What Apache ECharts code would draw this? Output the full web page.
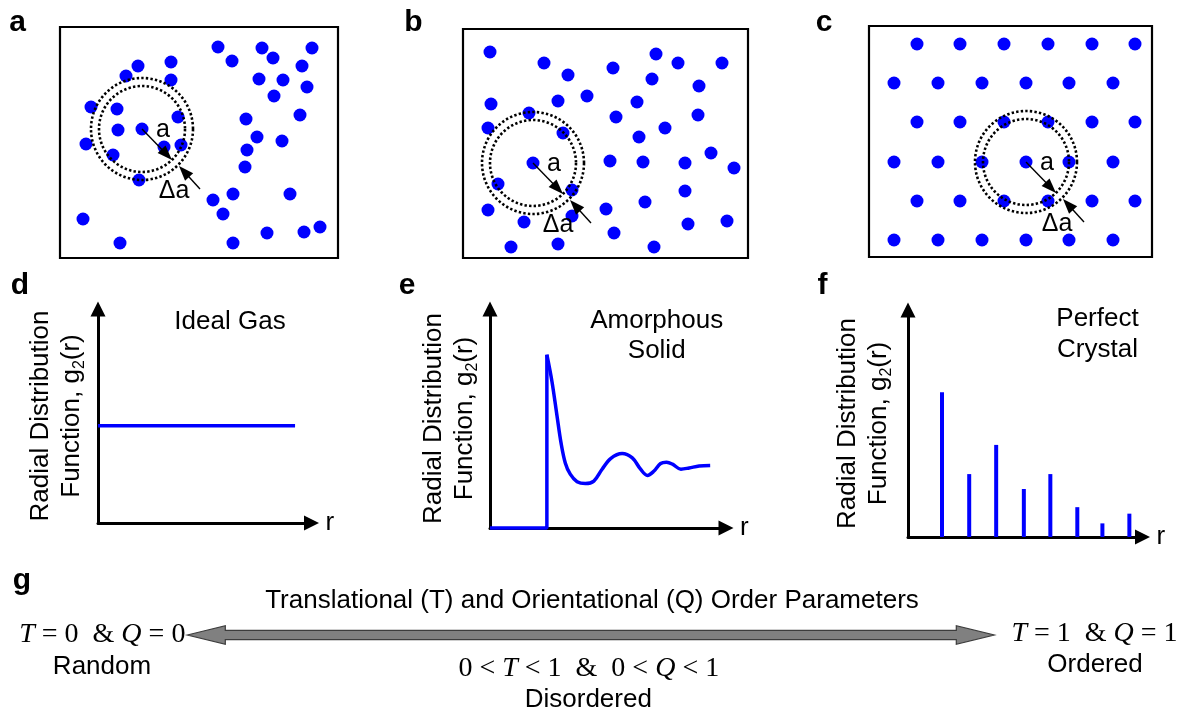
<!DOCTYPE html>
<html><head><meta charset="utf-8">
<script src="https://cdn.jsdelivr.net/npm/echarts@6/dist/echarts.min.js"></script>
<style>html,body{margin:0;padding:0;background:#fff}#c{width:1187px;height:717px}</style>
</head><body><div id="c"></div>
<script>
// ---------- DATA ----------
// Panel a: ideal gas particle positions (box units, y measured downward)
const gasX = [158,202,252,172,213,242,78,111,66,111,199,223,247,214,31,57,118,186,240,58,82,197,222,26,104,121,187,53,185,79,173,230,153,163,23,260,207,244,60,173];
const gasY = [20,21,21,34,31,39,39,35,49,53,52,53,60,69,80,82,90,92,88,103,102,110,114,117,120,118,123,128,140,153,167,167,173,187,192,200,206,205,216,216];
// Panel b: amorphous solid particle positions
const amorphX = [27,81,105,150,193,215,259,189,236,28,95,124,174,66,153,235,25,100,202,176,248,70,147,180,222,271,35,109,222,182,25,143,109,61,225,264,151,48,95,191];
const amorphY = [23,34,46,39,25,34,34,50,57,75,72,67,73,84,88,86,99,104,99,108,124,134,132,133,134,139,155,161,162,173,181,180,187,193,195,192,204,218,215,218];
// Panel c: perfect crystal lattice (rows alternate between the two column sets)
const crystalRowY = [18,57,96,136,175,214];
const crystalColsOdd = [48,91,135,179,223,266];
const crystalColsEven = [25,69,113,157,200,244];
// reference particle (shell centre) in each box
const shellCenters = [[82,102],[70,134],[157,136]];
// Panel d: ideal gas g2(r)
const idealR = [0, 9.23];
const idealG = [1, 1];
// Panel e: amorphous solid g2(r)
const amorphStepR = [0, 2.41, 2.41];
const amorphStepG = [0, 0, 2.77];
const amorphCurveR = [2.41,2.63,2.84,3.01,3.19,3.40,3.69,4.04,4.40,4.75,5.11,5.60,6.03,6.38,6.67,6.95,7.23,7.48,7.73,8.09,8.44,8.86,9.33];
const amorphCurveG = [2.77,2.33,1.79,1.36,1.04,0.86,0.74,0.71,0.75,0.94,1.11,1.19,1.12,0.94,0.84,0.91,1.03,1.05,1.02,0.94,0.96,0.99,1.00];
// Panel f: perfect crystal g2(r) peaks
const crystalPeakR = [1.45,2.61,3.76,4.94,6.07,7.22,8.29,9.44];
const crystalPeakG = [2.23,0.97,1.42,0.74,0.97,0.46,0.21,0.36];

// ---------- LAYOUT ----------
const FONT = "'Liberation Sans', Arial, sans-serif";
const SERIF = "'Liberation Serif', 'DejaVu Serif', serif";
const BLUE = '#0000FF';
const boxes = [
  {left:60, top:27, width:278, height:231, daX:32},
  {left:463, top:29, width:285, height:229, daX:25},
  {left:869, top:26, width:283, height:231, daX:31}
];
const plots = [
  {left:98, top:309, width:213.5, height:214, ymax:2.2, gap:10.5},
  {left:490, top:309, width:236, height:219, ymax:3.5, gap:9.2},
  {left:908, top:310, width:234.5, height:227, ymax:3.5, gap:13.2}
];

const crystalPts = [];
crystalRowY.forEach((y, r) => {
  (r % 2 === 0 ? crystalColsOdd : crystalColsEven).forEach(x => crystalPts.push([x, y]));
});
const particleSets = [
  gasX.map((x, i) => [x, gasY[i]]),
  amorphX.map((x, i) => [x, amorphY[i]]),
  crystalPts
];

const grid = [], xAxis = [], yAxis = [], series = [];

function arrowSeg(from, tip, headLen) {
  const dx = tip[0] - from[0], dy = tip[1] - from[1];
  const L = Math.hypot(dx, dy);
  return [{coord: from}, {coord: [tip[0] - dx / L * headLen / 2, tip[1] - dy / L * headLen / 2]}];
}

boxes.forEach((b, i) => {
  grid.push({left:b.left, top:b.top, width:b.width, height:b.height, show:true,
    borderColor:'#000', borderWidth:2.2, backgroundColor:'#fff'});
  xAxis.push({gridIndex:i, type:'value', min:0, max:b.width, show:false});
  yAxis.push({gridIndex:i, type:'value', min:0, max:b.height, inverse:true, show:false});
  series.push({type:'scatter', xAxisIndex:i, yAxisIndex:i, data:particleSets[i],
    symbolSize:13, itemStyle:{color:BLUE, opacity:1}, silent:true, z:2});
  const c = shellCenters[i];
  series.push({type:'scatter', xAxisIndex:i, yAxisIndex:i,
    data:[[c[0], c[1], 102], [c[0], c[1], 86]],
    symbolSize: v => v[2],
    itemStyle:{color:'rgba(0,0,0,0)', opacity:1, borderColor:'#000', borderWidth:2.6, borderType:[2.4,2.2]},
    silent:true, z:3,
    markLine:{silent:true, symbol:['none','triangle'], symbolSize:[11,15],
      lineStyle:{color:'#000', width:1.4, type:'solid', opacity:1}, label:{show:false},
      emphasis:{disabled:true}, animation:false,
      data:[
        arrowSeg([c[0], c[1]], [c[0] + 30, c[1] + 31], 15),
        arrowSeg([c[0] + 58, c[1] + 60], [c[0] + 37, c[1] + 37], 15)
      ]}
  });
  series.push({type:'scatter', xAxisIndex:i, yAxisIndex:i,
    data:[[c[0] + 21, c[1] + 1.5, 'a'], [c[0] + b.daX, c[1] + 62, 'Δa']],
    symbolSize:1, itemStyle:{color:'rgba(0,0,0,0)', opacity:1}, silent:true, z:4,
    label:{show:true, position:'inside', formatter:p => p.data[2], opacity:1,
      fontSize:25, fontFamily:FONT, color:'#000'}});
});

plots.forEach((p, k) => {
  const i = k + 3;
  grid.push({left:p.left, top:p.top, width:p.width, height:p.height, show:false});
  xAxis.push({gridIndex:i, type:'value', min:0, max:10,
    axisLine:{show:true, onZero:false, symbol:['none','triangle'], symbolSize:[15,15],
      lineStyle:{color:'#000', width:3}},
    axisTick:{show:false}, axisLabel:{show:false}, splitLine:{show:false},
    name:'r', nameLocation:'end', nameGap:14,
    nameTextStyle:{fontSize:26, fontFamily:FONT, color:'#000', verticalAlign:'middle', align:'left'}});
  yAxis.push({gridIndex:i, type:'value', min:0, max:p.ymax,
    axisLine:{show:true, onZero:false, symbol:['none','triangle'], symbolSize:[15,15],
      lineStyle:{color:'#000', width:3}},
    axisTick:{show:false}, axisLabel:{show:false}, splitLine:{show:false},
    name:'Radial Distribution\nFunction, g{s|2}(r)', nameLocation:'middle', nameRotate:90, nameGap:p.gap,
    nameTextStyle:{fontSize:26, fontFamily:FONT, color:'#000', lineHeight:31,
      rich:{s:{fontSize:16, fontFamily:FONT, color:'#000', verticalAlign:'bottom', lineHeight:18}}}});
});

const lineStyleBlue = {color:BLUE, width:3.5};
series.push({type:'line', xAxisIndex:3, yAxisIndex:3, data:idealR.map((r, i) => [r, idealG[i]]),
  showSymbol:false, lineStyle:lineStyleBlue, itemStyle:{color:BLUE}, clip:false, silent:true, z:5});
series.push({type:'line', xAxisIndex:4, yAxisIndex:4, data:amorphStepR.map((r, i) => [r, amorphStepG[i]]),
  showSymbol:false, lineStyle:lineStyleBlue, itemStyle:{color:BLUE}, clip:false, silent:true, z:5});
series.push({type:'line', xAxisIndex:4, yAxisIndex:4, data:amorphCurveR.map((r, i) => [r, amorphCurveG[i]]),
  showSymbol:false, smooth:0.35, lineStyle:lineStyleBlue, itemStyle:{color:BLUE}, clip:false, silent:true, z:5});
series.push({type:'bar', xAxisIndex:5, yAxisIndex:5, data:crystalPeakR.map((r, i) => [r, crystalPeakG[i]]),
  barWidth:4, itemStyle:{color:BLUE}, clip:false, silent:true, z:5});

// ---------- GRAPHIC (labels, titles, order-parameter arrow) ----------
function txt(text, x, y, size, opts) {
  opts = opts || {};
  return {type:'text', silent:true, z:10, style:Object.assign({
    text, x, y, fill:'#000', fontSize:size, fontFamily:FONT, fontWeight:opts.bold ? 'bold' : 'normal',
    align:'center', verticalAlign:'middle', textAlign:'center', textVerticalAlign:'middle'
  }, opts.style || {})};
}
const panelLetters = [['a',17.5,22.7],['b',413.5,22.4],['c',824,22.4],['d',20,285.7],['e',407,285.7],['f',822.5,285.7],['g',22,581]];
const graphics = panelLetters.map(l => txt(l[0], l[1], l[2], 30, {bold:true}));
graphics.push(txt('Ideal Gas', 230, 322, 26));
graphics.push(txt('Amorphous', 656.7, 321.3, 26));
graphics.push(txt('Solid', 656.7, 351.3, 26));
graphics.push(txt('Perfect', 1097.5, 318.7, 26));
graphics.push(txt('Crystal', 1097.5, 350.3, 26));
graphics.push(txt('Translational (T) and Orientational (Q) Order Parameters', 592, 601, 26));
graphics.push(txt('Random', 102, 667, 26));
graphics.push(txt('Ordered', 1095, 665.3, 26));
graphics.push(txt('Disordered', 588.3, 700.3, 26));
const mathRich = {i:{fontStyle:'italic', fontFamily:SERIF, fontSize:28, fill:'#000', color:'#000'}};
function mathTxt(text, x, y) {
  return txt(text, x, y, 28, {style:{fontFamily:SERIF, rich:mathRich}});
}
graphics.push(mathTxt('{i|T} = 0  & {i|Q} = 0', 102.3, 634.8));
graphics.push(mathTxt('{i|T} = 1  & {i|Q} = 1', 1094.5, 633.2));
graphics.push(mathTxt('0 < {i|T} < 1  &  0 < {i|Q} < 1', 588.8, 669));

// double-headed block arrow
const arrL = 187.3, arrR = 994.3, arrY = 635, headLen = 38, headHalf = 9.3, shaftHalf = 4.6;
graphics.push({type:'polygon', silent:true, z:9, shape:{points:[
  [arrL, arrY], [arrL + headLen, arrY - headHalf], [arrL + headLen, arrY - shaftHalf],
  [arrR - headLen, arrY - shaftHalf], [arrR - headLen, arrY - headHalf], [arrR, arrY],
  [arrR - headLen, arrY + headHalf], [arrR - headLen, arrY + shaftHalf],
  [arrL + headLen, arrY + shaftHalf], [arrL + headLen, arrY + headHalf]
]}, style:{fill:'#808080', stroke:'#3c3c3c', lineWidth:1.2}});

const chart = echarts.init(document.getElementById('c'), null, {renderer:'canvas'});
chart.setOption({animation:false, backgroundColor:'#fff', grid, xAxis, yAxis, series, graphic:graphics});
</script>
</body></html>
